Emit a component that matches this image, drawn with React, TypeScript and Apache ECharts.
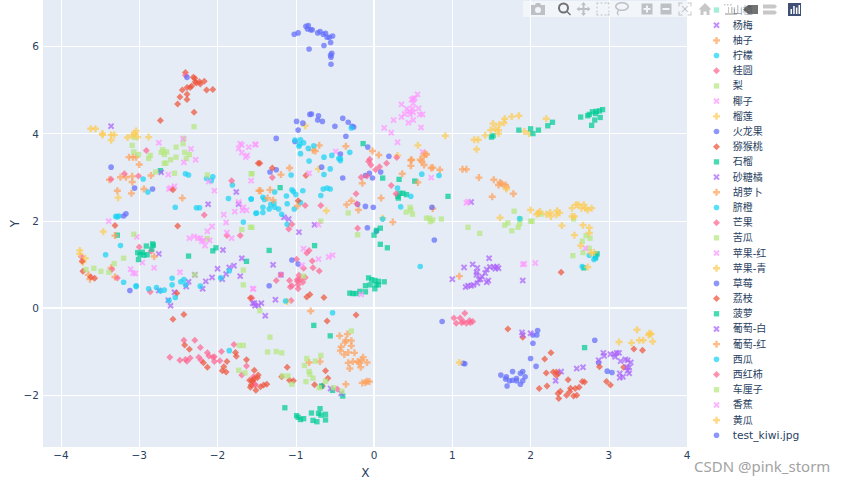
import React, { useEffect, useRef } from "react";
import * as echarts from "echarts";

const xTicks = [-4, -3, -2, -1, 0, 1, 2, 3, 4];
const yTicks = [-2, 0, 2, 4, 6];

const shanzha = [[-3.28,1.67],[-2.73,3.15],[-2.37,1.19],[-2.06,1.31],[-2.02,1.38],[-1.63,1.07],[-1.2,2.76],[-1.34,1.32],[-0.76,1.43],[-0.14,3.77],[0.11,2.98],[0.32,2.95],[0.52,2.91],[0.945,2.56],[0.08,1.46],[0.17,1.38],[1.5,3.92],[1.52,3.95],[2.83,1.21],[2.85,1.24],[2.83,1.15],[2.68,0.92],[-0.77,-0.4],[-0.56,-0.64],[2.69,-0.91],[-1.14,-2.29]];
const yangmei = [[-3.36,4.17],[-2.75,1.24],[-2.72,3.11],[-1.76,2.66],[-2.12,2.38],[-1.73,2.38],[-1.93,1.33],[-1.69,1.14],[-2.0,0.9],[-1.85,0.93],[-1.79,0.97],[-1.89,0.78],[-1.71,0.73],[-2.07,0.7],[-2.15,0.61],[-1.94,0.66],[-2.29,0.76],[-2.37,0.6],[-2.4,0.49],[-2.19,0.44],[-2.55,0.36],[-2.75,0.4],[-2.63,0.18],[-2.6,0.05],[-1.55,0.11],[-1.52,0.05],[-1.48,0.06],[-1.53,0.11],[-1.44,0.11],[-1.26,0.19]];
const youzi = [[-3.0,3.29],[-3.24,3.0],[-3.17,3.0],[-3.09,3.02],[-3.09,2.89],[-3.38,2.94],[-3.28,2.69],[-3.1,2.63],[-2.94,2.73],[-2.85,3.04],[-2.45,2.52],[-1.47,2.69],[-3.31,1.66],[-2.81,1.18],[-3.36,0.92],[-3.31,0.71],[-3.65,0.76],[-3.63,0.66],[-3.13,3.46],[-3.08,3.46],[-3.04,3.46]];
const ningmeng = [[-2.95,2.96],[-2.89,2.66],[-2.41,3.08],[-2.37,3.05],[-2.54,2.31],[-3.3,2.1],[-3.26,2.11],[-3.28,2.09],[-2.27,2.3],[-2.23,2.3],[-2.14,2.97],[-2.08,2.92],[-2.06,3.01],[-1.81,2.82],[-1.86,2.51],[-1.57,2.5],[-1.51,2.17],[-1.67,1.97],[-3.24,1.43],[-3.43,1.22],[-1.06,3.05],[-0.83,3.37],[-0.56,3.19],[-0.64,3.06],[-0.43,3.38]];
const guiyuan = [[-2.43,-0.74],[-2.29,-0.74],[-2.22,-0.91],[-2.61,-1.13],[-2.48,-1.2],[-2.41,-1.18],[-2.39,-1.22],[-2.35,-1.15],[-2.24,-1.13],[-2.21,-1.2],[-2.13,-1.03],[-2.11,-1.1],[-2.06,-1.13],[-2.04,-1.12],[-2.04,-1.23],[-1.97,-1.21],[-1.95,-1.0],[-1.79,-0.84],[-1.63,-1.33],[-1.69,-1.54],[-1.54,-1.58],[-1.52,-1.77],[-0.47,-1.86],[-1.52,-1.75]];
const li = [[-2.3,4.16],[-2.43,3.89],[-2.44,3.77],[-2.53,3.69],[-2.7,3.63],[-2.65,3.58],[-2.68,3.52],[-2.72,3.57],[-2.42,3.57],[-2.36,3.52],[-2.53,3.46],[-2.4,3.43],[-2.86,3.5],[-2.88,3.43],[-2.6,3.4],[-3.09,3.73],[-3.07,3.58],[-3.01,3.52],[-3.06,3.91],[-2.68,3.32],[-2.66,3.32],[-2.79,3.12],[-2.55,3.09],[-2.13,3.05],[-1.57,3.08],[-1.56,3.08]];
const yezi = [[0.555,4.9],[0.5,4.8],[0.52,4.81],[0.48,4.78],[0.5,4.69],[0.35,4.67],[0.42,4.57],[0.49,4.57],[0.57,4.58],[0.45,4.51],[0.5,4.49],[0.39,4.45],[0.46,4.44],[0.585,4.44],[0.62,4.44],[0.35,4.38],[0.5,4.31],[0.44,4.25],[0.25,4.31],[0.6,4.14],[0.13,4.13],[0.22,4.02],[0.3,3.8],[0.62,3.58],[-0.49,3.59],[-1.51,3.75]];
const liulian = [[1.85,4.41],[1.76,4.39],[1.67,4.34],[1.66,4.25],[1.6,4.21],[1.52,4.23],[1.55,4.11],[1.49,4.08],[1.59,4.08],[1.59,4.0],[1.42,3.96],[1.28,3.86],[1.33,3.86],[1.31,3.64],[1.92,4.05],[1.98,4.0],[2.2,4.34],[0.91,3.95],[0.56,3.73],[0.3,3.5],[-0.88,4.18]];
const huolongguo = [[-1.02,6.28],[-0.97,6.31],[-0.87,6.46],[-0.84,6.48],[-0.85,6.4],[-0.81,6.38],[-0.79,6.38],[-0.72,6.31],[-0.69,6.34],[-0.65,6.28],[-0.62,6.3],[-0.6,6.21],[-0.57,6.21],[-0.53,6.24],[-0.555,6.09],[-0.64,6.02],[-0.83,5.94],[-0.54,5.84],[-0.555,5.8],[-0.55,5.75],[-0.55,5.59],[-0.99,4.28],[-0.91,4.24],[-0.82,4.44],[-0.8,4.45],[-0.71,4.41],[-0.72,4.31],[-0.66,4.28],[-0.97,4.08],[-0.5,4.17],[-0.4,4.35],[-0.33,4.26],[-0.28,4.17],[-0.26,4.15],[-0.36,3.94],[-1.25,3.89],[-1.01,3.82],[-0.08,3.69],[-0.43,3.53],[0.19,3.48]];
const mihoutao = [[-2.41,5.4],[-2.31,5.29],[-2.285,5.19],[-2.23,5.19],[-2.17,5.2],[-2.33,5.09],[-2.39,5.06],[-2.45,5.0],[-2.14,5.0],[-2.06,5.01],[-2.39,4.9],[-2.48,4.84],[-2.39,4.78],[-2.51,4.68],[-2.3,4.49],[-2.73,4.3],[-2.27,5.16],[-2.35,5.06],[-2.22,5.14],[-2.29,5.27]];
const shiliu = [[1.85,4.08],[2.0,4.11],[2.03,4.0],[2.1,4.08],[2.22,4.18],[2.28,4.26],[2.64,4.38],[2.73,4.41],[2.75,4.44],[2.79,4.5],[2.84,4.51],[2.88,4.52],[2.92,4.55],[2.89,4.37],[2.82,4.31],[2.78,4.19],[2.83,4.46],[0.305,2.56],[0.33,2.63],[0.37,2.63],[0.415,2.6],[0.31,2.52]];
const shatangju = [[1.24,2.43],[1.47,1.14],[1.26,1.0],[1.32,0.92],[1.31,0.82],[1.31,0.76],[1.38,0.72],[1.36,0.66],[1.44,0.88],[1.42,0.8],[1.48,0.94],[1.53,0.94],[1.57,0.95],[1.59,0.91],[1.55,0.9],[1.32,0.57],[1.27,0.53],[1.24,0.51],[1.46,0.63],[1.44,0.59],[1.9,0.63],[1.34,0.65],[1.0,0.66],[1.15,0.93],[1.17,0.48],[1.2,0.51],[-1.15,2.08],[-1.09,2.04],[-0.76,1.91],[-0.96,1.74],[-1.29,0.99],[-1.19,0.76]];
const huluobo = [[1.34,2.99],[1.53,2.94],[1.61,2.88],[1.63,2.85],[1.59,2.82],[1.68,2.82],[1.69,2.77],[1.78,2.62],[1.51,2.55],[1.13,3.18],[1.18,3.18],[0.47,3.26],[0.61,3.36],[0.64,3.28],[0.73,3.21],[0.75,3.22],[0.84,3.17],[0.36,3.08],[0.48,3.4],[0.75,2.28],[0.56,2.88],[0.24,1.97],[0.09,2.52],[-0.15,2.86],[-0.2,2.25],[-0.29,2.46],[-0.35,2.37],[1.09,0.73],[-0.7,3.73],[-0.78,3.62],[-0.75,3.6],[-0.36,3.71],[-0.02,3.6],[0.06,3.51],[0.47,3.39],[0.65,3.54],[0.67,3.52],[0.635,3.48],[0.59,3.4]];
const qicheng = [[-1.57,2.5],[-1.5,2.18],[-1.42,2.54],[-1.4,2.49],[-1.42,2.31],[-1.42,2.19],[-1.27,2.66],[-1.34,2.27],[-1.32,2.37],[-1.28,2.4],[-1.27,2.31],[-1.22,2.27],[-1.18,2.15],[-1.12,2.57],[-1.11,2.39],[-1.05,2.71],[-1.03,2.67],[-1.0,2.6],[-0.91,2.69],[-1.02,2.27],[-0.94,2.42],[-1.11,1.92],[-0.68,2.58],[-0.65,2.73],[-0.6,2.75],[-0.56,2.73],[-1.01,3.85],[-0.94,3.86],[-0.95,3.75],[-0.9,3.79],[-0.96,3.71],[-0.84,3.66],[-0.77,3.72],[-0.94,3.54],[-0.64,3.46],[-0.54,3.5],[-0.29,4.13],[-0.31,3.57],[-0.45,3.43],[-0.43,3.43]];
const mangguo = [[-0.96,0.75],[-0.98,0.65],[-0.94,0.65],[-1.08,0.63],[-1.05,0.51],[-1.07,0.48],[-0.97,0.53],[-0.91,0.59],[-0.88,0.7],[-0.97,0.44],[-0.98,0.61],[-0.86,1.26],[-0.83,1.32],[-1.06,0.17],[-1.56,0.23],[-0.99,1.12],[-0.79,1.08],[-0.9,0.91],[-0.78,0.92],[-0.7,0.85],[-1.19,0.76],[-1.25,0.63],[-3.36,2.95],[-3.19,3.08],[-3.01,3.03],[-3.0,1.4],[-2.85,1.3],[-3.35,0.88],[-3.28,0.69],[-2.86,0.37],[-3.74,1.18],[-2.17,2.13],[-1.82,2.92],[-1.88,1.66],[-1.71,1.66],[-2.91,3.61],[-2.41,5.34]];
const kugua = [[1.79,2.22],[1.71,1.95],[1.67,1.9],[1.87,2.04],[1.86,1.93],[1.84,1.85],[1.76,1.77],[2.0,1.99],[2.02,1.99],[1.35,1.71],[1.2,1.85],[2.13,2.15],[2.55,2.04],[2.71,1.66],[2.76,1.6],[2.66,1.53],[2.75,1.37],[2.67,1.27],[2.54,1.2],[0.46,2.31],[0.41,2.2],[0.47,2.25],[0.49,2.15],[0.67,2.06],[0.71,2.06],[0.72,1.98],[0.75,2.02],[0.86,2.04],[-0.33,2.18],[-0.68,1.99],[-0.21,1.68],[-0.9,0.73],[-1.56,1.85]];
const pingguoHong = [[-3.39,1.99],[-3.03,1.63],[-2.63,3.06],[-2.43,3.34],[-2.62,2.73],[-2.6,2.75],[-2.55,2.79],[-2.11,2.9],[-2.04,2.69],[-1.73,2.43],[-1.78,2.21],[-1.67,2.31],[-1.63,2.24],[-1.68,2.24],[-1.92,2.14],[-1.89,1.96],[-2.96,1.04],[-2.81,0.92],[-3.11,0.89],[-3.08,0.8],[-3.05,0.79],[-2.48,0.82],[-1.57,2.92],[-1.55,0.44],[-2.75,3.79],[-2.44,3.88],[-2.34,3.65],[-2.28,3.4]];
const pingguoQing = [[-3.62,4.11],[-3.56,4.11],[-3.47,4.0],[-3.47,3.97],[-3.36,3.97],[-3.32,3.97],[-3.36,3.85],[-3.15,3.91],[-3.09,3.96],[-3.04,4.06],[-3.06,4.0],[-3.02,3.92],[-2.88,3.92],[-3.27,2.53],[-3.46,1.75],[-3.76,1.32],[-3.76,1.24],[-3.69,1.14],[-3.72,1.05],[-0.61,2.23],[-0.71,3.19],[0.11,2.06],[-1.11,0.15]];
const caomei = [[2.09,-0.52],[2.08,-0.62],[2.03,-0.62],[2.03,-0.81],[2.82,-0.74],[2.0,-1.16],[2.07,-1.34],[1.62,-1.54],[1.69,-1.58],[1.68,-1.63],[1.77,-1.46],[1.73,-1.67],[1.77,-1.66],[1.82,-1.62],[1.82,-1.67],[1.7,-1.79],[1.87,-1.5],[1.9,-1.46],[1.93,-1.58],[1.9,-1.67],[1.87,-1.75],[2.87,-1.26],[2.98,-1.45],[3.04,-1.48],[0.87,-0.31],[1.14,-1.27],[1.16,-1.28],[-3.06,2.75],[-2.83,2.73],[-3.36,3.23],[-3.17,2.16],[-3.2,2.11],[-3.12,0.4],[-1.33,3.12],[-1.25,3.17],[-0.67,3.23],[-0.4,2.98],[-0.11,3.04],[-0.06,3.09],[-0.02,2.98],[0.085,3.12],[-0.11,2.33],[-0.01,2.31],[-0.21,2.38],[0.74,2.31],[-0.085,1.84],[0.77,1.56],[-1.05,1.1],[-0.97,1.01],[-1.34,0.51],[0.03,1.76]];
const lizhi = [[1.71,-0.48],[1.9,-0.67],[2.26,-1.03],[2.18,-1.17],[2.2,-1.49],[2.29,-1.47],[2.33,-1.47],[2.36,-1.5],[2.33,-1.55],[2.48,-1.65],[2.11,-1.85],[2.21,-1.79],[2.66,-1.69],[2.69,-1.7],[2.62,-1.82],[2.57,-1.85],[2.51,-1.84],[2.5,-1.92],[2.46,-2.0],[2.55,-2.02],[2.59,-2.0],[2.38,-1.91],[2.35,-1.96],[2.36,-2.08],[2.97,-1.69],[3.02,-1.77],[2.88,-1.35],[3.19,-1.36],[3.32,-0.94],[3.43,-0.97],[2.39,0.82],[-3.31,1.89],[-2.51,1.88],[-2.57,2.71],[-3.73,1.07],[-3.72,0.84],[-3.62,0.71],[-3.57,0.68],[-2.52,0.34],[-1.58,0.23],[-1.48,3.32],[-1.46,3.32],[-1.3,3.21],[-0.87,3.04],[-0.97,2.46],[-0.64,0.24],[-0.86,0.25],[-0.82,0.31],[-2.57,-0.26],[-2.43,-0.15],[-2.42,-0.85],[-2.36,-0.95],[-2.18,-1.26],[-2.13,-1.36],[-1.77,-1.02],[-1.76,-1.11],[-1.63,-1.19],[-1.88,-1.23],[-1.92,-1.35],[-1.94,-1.44],[-1.89,-1.47],[-1.53,-1.43],[-1.48,-1.54],[-1.49,-1.6],[-1.59,-1.66],[-1.56,-1.67],[-1.57,-1.77],[-1.58,-1.82],[-1.51,-1.89],[-1.45,-1.81],[-1.41,-1.77],[-1.37,-1.75],[-1.55,-1.67],[-1.53,-1.62],[-1.11,-1.36],[-1.18,-1.58],[-1.08,-1.66],[-1.03,-1.67],[-0.23,-0.16],[-0.6,-0.3],[-0.62,-1.44],[-0.76,-1.76],[-0.66,-1.79],[-0.59,-1.61]];
const boluo = [[-0.07,0.69],[-0.03,0.65],[0.01,0.63],[0.055,0.61],[0.13,0.6],[-0.11,0.51],[-0.05,0.53],[0.025,0.53],[0.055,0.53],[0.01,0.44],[-0.11,0.37],[-0.18,0.38],[-0.23,0.33],[-0.27,0.33],[-0.31,0.34],[0,1.67],[0.03,1.78],[0.08,1.83],[-3.02,1.27],[-2.96,1.28],[-2.99,1.23],[-3.01,1.11],[-2.91,1.42],[-2.9,1.22],[-2.83,1.47],[-2.82,1.44],[-2.84,1.35],[-2.94,1.21],[-0.99,-2.47],[-0.97,-2.51],[-0.94,-2.56],[-0.9,-2.54],[-0.8,-2.41],[-0.78,-2.58],[-0.73,-2.61],[-0.71,-2.42],[-0.69,-2.31],[-0.68,-2.46],[-0.62,-2.44],[-0.62,-2.57],[-0.67,-1.79],[-0.53,-1.89],[-0.4,-2.02]];
const putaoBai = [[1.89,-0.56],[1.9,-0.62],[2.0,-0.58],[2.59,-1.39],[2.67,-1.36],[2.39,-1.46],[2.32,-1.67],[2.87,-1.2],[2.93,-1.03],[2.94,-1.1],[3.02,-1.06],[3.07,-1.06],[3.1,-1.03],[3.13,-1.03],[3.08,-1.12],[3.15,-1.22],[3.21,-1.18],[3.24,-1.2],[3.28,-1.25],[3.23,-1.36],[3.26,-1.36],[3.24,-1.44],[3.26,-1.5],[3.14,-1.5],[3.18,-1.58],[3.14,-1.6],[-1.39,-0.18],[-0.555,-1.85],[-0.42,-1.96]];
const putaoHong = [[-0.81,-0.07],[-0.44,-0.64],[-0.34,-0.6],[-0.36,-0.74],[-0.37,-0.79],[-0.29,-0.75],[-0.29,-0.87],[-0.42,-0.89],[-0.43,-0.98],[-0.38,-1.07],[-0.33,-1.02],[-0.25,-1.03],[-0.33,-1.26],[-0.27,-1.23],[-0.21,-1.23],[-0.16,-1.2],[-0.19,-1.26],[-0.09,-1.25],[-0.14,-1.13],[-0.17,-1.36],[-0.31,-1.39],[-0.36,-1.75],[-0.15,-1.72],[-0.09,-1.68],[-0.06,-1.69],[-0.11,-1.71],[-0.83,-1.25],[-0.69,-1.23],[-1.08,3.21],[-1.19,3.06],[-1.45,2.69],[-1.33,2.71],[-1.36,2.52],[-1.29,2.47],[-0.98,2.34]];
const xigua = [[-3.2,0.59],[-3.04,0.51],[-3.04,0.49],[-2.88,0.44],[-2.78,0.47],[-2.73,0.39],[-2.68,0.41],[-2.58,0.68],[-2.58,0.53],[-2.47,0.6],[-2.43,0.65],[-2.41,0.53],[-2.54,0.24],[-2.62,0.17],[-2.22,0.5],[-1.96,0.69],[-1.85,0.85],[-1.13,0.16],[0.3,2.75],[0.61,3.07],[0.83,3.04],[0.34,2.32],[0.47,2.56],[0.11,2.04],[0.59,0.95],[1.86,2.05],[2.75,1.21],[2.81,1.11],[2.66,0.95],[2.83,1.16],[-1.85,-0.98],[-0.53,-0.11]];
const xihongshi = [[1.02,-0.23],[1.05,-0.35],[1.1,-0.23],[1.14,-0.31],[1.18,-0.35],[1.16,-0.12],[1.22,-0.29],[1.12,-0.34],[1.26,-0.31],[1.23,-0.34],[-1.3,2.99],[-0.88,2.35],[-1.09,1.81],[-1.05,1.92],[-0.68,2.35],[-0.23,2.62],[-0.22,2.39],[-0.21,1.83],[-0.165,3.0],[-0.09,3.03],[-0.07,3.36],[-0.04,3.28],[0.02,3.17],[0.07,3.24],[0.16,3.32],[0.22,2.81],[0.28,2.62],[-0.055,3.41],[0.29,3.45]];
const chelizi = [[-1.46,-0.06],[-1.33,-0.67],[-1.36,-1.01],[-1.25,-1.0],[-1.18,-1.03],[-1.17,-1.56],[-1.1,-1.56],[-1.05,-1.75],[-0.86,-1.16],[-0.89,-1.32],[-0.75,-1.22],[-0.68,-1.09],[-0.83,-1.46],[-0.82,-1.52],[-0.78,-1.61],[-0.87,-1.69],[-0.62,-1.68],[-0.7,-1.83],[-0.29,-0.53],[-0.52,-1.83],[-0.41,-1.91],[-1.72,-0.86],[-1.67,-0.86],[-1.73,-1.43],[-1.65,-1.49],[-3.07,1.69],[-1.69,1.8],[-1.58,1.85],[-2.13,1.59],[-3.2,1.14],[-3.32,1.02],[-3.68,0.88],[-3.58,0.91],[-3.49,0.84],[-3.39,0.82],[-2.29,0.76],[-1.67,0.87],[-1.67,0.53]];
const xiangjiao = [[-2.13,1.76],[-2.07,1.87],[-2.36,1.6],[-2.3,1.64],[-2.22,1.6],[-2.18,1.55],[-2.25,1.6],[-2.2,1.53],[-2.1,1.55],[-2.16,1.43],[-1.88,1.73],[-1.82,1.6],[-1.71,3.77],[-1.69,3.74],[-1.6,3.69],[-1.52,3.75],[-1.73,3.66],[-1.69,3.56],[-1.62,3.5],[-1.64,3.46],[-0.83,3.09],[-0.71,1.91],[-0.9,1.36],[-0.71,1.12],[-0.58,1.17],[-0.53,1.21],[-0.92,0.98],[-1.54,0.44],[0.73,2.99],[-0.165,0.31],[1.2,2.44],[1.18,2.41],[2.7,1.37],[1.92,1.01],[1.9,1.0],[2.06,1.03]];
const huanggua = [[3.36,-0.5],[3.52,-0.58],[3.54,-0.6],[3.51,-0.62],[3.13,-0.78],[3.29,-0.8],[3.39,-0.74],[3.44,-0.74],[3.56,-0.77],[1.69,2.73],[2.0,2.25],[1.61,2.07],[2.1,2.18],[2.12,2.21],[2.08,2.15],[2.2,2.15],[2.25,2.19],[2.26,2.1],[2.34,2.23],[2.33,2.14],[2.37,2.18],[2.4,1.89],[2.53,2.29],[2.58,2.37],[2.61,2.37],[2.65,2.29],[2.68,2.37],[2.7,2.29],[2.73,2.25],[2.78,2.29],[2.53,2.1],[2.56,2.1],[2.67,1.9],[2.75,1.84],[2.75,1.72],[2.56,1.67],[2.64,1.43],[2.77,1.26],[2.81,1.27],[2.73,0.94],[1.09,-1.25]];
const testKiwi = [[-2.39,5.29]];

const seriesNames = ["山楂","杨梅","柚子","柠檬","桂圆","梨","椰子","榴莲","火龙果","猕猴桃","石榴","砂糖橘","胡萝卜","脐橙","芒果","苦瓜","苹果-红","苹果-青","草莓","荔枝","菠萝","葡萄-白","葡萄-红","西瓜","西红柿","车厘子","香蕉","黄瓜","test_kiwi.jpg"];
const seriesPoints = [shanzha,yangmei,youzi,ningmeng,guiyuan,li,yezi,liulian,huolongguo,mihoutao,shiliu,shatangju,huluobo,qicheng,mangguo,kugua,pingguoHong,pingguoQing,caomei,lizhi,boluo,putaoBai,putaoHong,xigua,xihongshi,chelizi,xiangjiao,huanggua,testKiwi];

// plotly's default colour and symbol cycles, starting at the square
const colorCycle = ["#00cc96","#ab63fa","#FFA15A","#19d3f3","#FF6692","#B6E880","#FF97FF","#FECB52","#636efa","#EF553B"];
const BOX = "M0 0M100 100";
const SQUARE = `path://${BOX}M12 12H88V88H12Z`;
const X = `path://${BOX}M24 4L50 30L76 4L96 24L70 50L96 76L76 96L50 70L24 96L4 76L30 50L4 24Z`;
const CROSS = `path://${BOX}M33 0H67V33H100V67H67V100H33V67H0V33H33Z`;
const CIRCLE = `path://${BOX}M50 10A40 40 0 1 1 50 90A40 40 0 1 1 50 10Z`;
const DIAMOND = `path://${BOX}M50 0L100 50L50 100L0 50Z`;
const symbolCycle = [SQUARE, X, CROSS, CIRCLE, DIAMOND];

const FONT = '"DejaVu Sans","Noto Sans CJK SC",sans-serif';
const INK = "#2a3f5f";
const ICON = "rgba(68,68,68,0.3)";
const ICON_ON = "rgba(68,68,68,0.75)";

const toolIcons: Record<string, string> = {
  tbCamera: "M0 2H4L5 0H9L10 2H14V12H0Z M7 4A3 3 0 1 0 7 10A3 3 0 1 0 7 4Z",
  tbZoom: "M5.5 0A5.5 5.5 0 1 1 5.5 11A5.5 5.5 0 1 1 5.5 0Z M5.5 2A3.5 3.5 0 1 0 5.5 9A3.5 3.5 0 1 0 5.5 2Z M9 8L13 12L12 13L8 9Z",
  tbPan: "M7 0L9.5 3H8V6H11V4.5L14 7L11 9.5V8H8V11H9.5L7 14L4.5 11H6V8H3V9.5L0 7L3 4.5V6H6V3H4.5Z",
  tbBox: "M0 0H2V1H1V2H0Z M4 0H6V1H4Z M8 0H10V1H8Z M11 0H13V2H12V1H11Z M12 4H13V6H12Z M12 8H13V10H12Z M12 11H13V13H11V12H12Z M8 12H10V13H8Z M4 12H6V13H4Z M0 11H1V12H2V13H0Z M0 8H1V10H0Z M0 4H1V6H0Z",
  tbLasso: "M7 0C11 0 14 2 14 4.5C14 7 11 9 7 9C6 9 5 9 4 8.5L3 11L4 13L3 13.5L1.5 11L2.8 8C1 7 0 6 0 4.5C0 2 3 0 7 0Z M7 1.5C4 1.5 1.5 3 1.5 4.5C1.5 6 4 7.5 7 7.5C10 7.5 12.5 6 12.5 4.5C12.5 3 10 1.5 7 1.5Z",
  tbPlus: "M0 0H11V11H0Z M4.5 2V4.5H2V6.5H4.5V9H6.5V6.5H9V4.5H6.5V2Z",
  tbMinus: "M0 0H11V11H0Z M2 4.5V6.5H9V4.5Z",
  tbAuto: "M0 0H4V1H1V4H0Z M9 0H13V4H12V1H9Z M0 9H1V12H4V13H0Z M12 9H13V13H9V12H12Z M3.5 3L6.5 5.7L9.5 3L10 3.5L7.2 6.5L10 9.5L9.5 10L6.5 7.3L3.5 10L3 9.5L5.8 6.5L3 3.5Z",
  tbHome: "M6.5 0L13 6.5H11V12H8V8.5H5V12H2V6.5H0Z",
  tbSpike: "M0 1H1.5V2.5H0Z M3 1H4.5V2.5H3Z M6 1H7.5V2.5H6Z M4 4H5V12H4Z M7 4H8.5V12H7Z M10 6H11V12H10Z M1 10H13V12H1Z",
  tbClosest: "M0 5.5L5 1H15V10H5Z",
  tbCompare: "M1 1H13L15 3L13 5H1Z M1 7H13L15 9L13 11H1Z",
  tbLogo: "M2 6H3.5V11H2Z M4.7 3H6.2V11H4.7Z M7.4 4.5H8.9V11H7.4Z M10 2H11.5V11H10Z",
};

const modebarItems = [
  { type: "tbCamera", x: 531, y: 3, fill: ICON },
  { type: "tbZoom", x: 558, y: 2.5, fill: ICON_ON },
  { type: "tbPan", x: 576.5, y: 2, fill: ICON },
  { type: "tbBox", x: 596.5, y: 2.5, fill: ICON },
  { type: "tbLasso", x: 615, y: 2, fill: ICON },
  { type: "tbPlus", x: 641.5, y: 3.5, fill: ICON },
  { type: "tbMinus", x: 660.5, y: 3.5, fill: ICON },
  { type: "tbAuto", x: 678.5, y: 2.5, fill: ICON },
  { type: "tbHome", x: 698.5, y: 3, fill: ICON },
  { type: "tbSpike", x: 724, y: 3, fill: ICON },
  { type: "tbClosest", x: 743, y: 4, fill: ICON_ON },
  { type: "tbCompare", x: 762, y: 3.5, fill: ICON },
];

let shapesRegistered = false;
function registerToolShapes() {
  if (shapesRegistered) return;
  shapesRegistered = true;
  Object.keys(toolIcons).forEach((k) => {
    echarts.graphic.registerShape(k, echarts.graphic.extendPath(toolIcons[k], {}));
  });
}

const minusLabel = (v: number) => String(v).replace("-", "\u2212");

export default function App() {
  const ref = useRef<HTMLDivElement>(null);
  useEffect(() => {
    document.body.style.margin = "0";
    registerToolShapes();
    const chart = echarts.init(ref.current!, undefined, { renderer: "svg" });
    chart.setOption({
      animation: false,
      backgroundColor: "#ffffff",
      textStyle: { fontFamily: FONT },
      grid: { left: 43, right: 159.5, top: 0, bottom: 36, outerBoundsMode: "none", containLabel: false, backgroundColor: "#e5ecf6", show: true, borderWidth: 0 },
      xAxis: {
        type: "value", min: -4.23, max: 4.005,
        name: "X", nameLocation: "middle", nameGap: 20,
        nameTextStyle: { color: INK, fontSize: 12, fontFamily: FONT },
        axisLine: { show: true, onZero: true, lineStyle: { color: "#ffffff", width: 2 } },
        axisTick: { show: false, customValues: xTicks },
        axisLabel: { color: INK, fontSize: 10.5, fontFamily: FONT, margin: 3, customValues: xTicks, formatter: minusLabel, showMinLabel: true, showMaxLabel: true },
        splitLine: { show: true, lineStyle: { color: "#ffffff", width: 1 } },
      },
      yAxis: {
        type: "value", min: -3.19, max: 7.065,
        axisLine: { show: true, onZero: true, lineStyle: { color: "#ffffff", width: 2 } },
        axisTick: { show: false, customValues: yTicks },
        axisLabel: { color: INK, fontSize: 10.5, fontFamily: FONT, margin: 4, customValues: yTicks, formatter: minusLabel },
        splitLine: { show: true, lineStyle: { color: "#ffffff", width: 1 } },
      },
      legend: {
        orient: "vertical", left: 713, top: 4, padding: 0,
        itemWidth: 22.4, itemHeight: 7, itemGap: 3.19,
        selectedMode: false,
        textStyle: { color: INK, fontSize: 10, lineHeight: 12, fontFamily: FONT },
        data: seriesNames.map((name, i) => ({
          name,
          icon: symbolCycle[i % 5],
          ...(name === "test_kiwi.jpg" ? { textStyle: { fontSize: 10.7, color: INK, fontFamily: FONT, lineHeight: 12 } } : {}),
        })),
      },
      series: seriesNames.map((name, i) => ({
        name,
        type: "scatter",
        data: seriesPoints[i],
        symbol: symbolCycle[i % 5],
        symbolSize: 7,
        itemStyle: { color: colorCycle[i % 10], opacity: 0.72 },
        silent: true,
      })),
      graphic: {
        elements: [
          { type: "text", x: 15, y: 223.5, rotation: Math.PI / 2, z: 20, silent: true, style: { text: "Y", fill: INK, font: `12px "DejaVu Sans"`, align: "center", verticalAlign: "middle" } },
          { type: "text", x: 694, y: 458, z: 20, silent: true, style: { text: "CSDN @pink_storm", fill: "#a3a3a3", font: `15px "Noto Sans"` } },
          { type: "rect", z: 20, silent: true, shape: { x: 523, y: 1, width: 282, height: 16 }, style: { fill: "rgba(255,255,255,0.5)" } },
          ...modebarItems.map((m) => ({ type: m.type, x: m.x, y: m.y, z: 21, silent: true, style: { fill: m.fill } })),
          { type: "rect", z: 21, silent: true, shape: { x: 788, y: 3, width: 13, height: 13 }, style: { fill: "#3f4f75" } },
          { type: "tbLogo", x: 788.5, y: 3, z: 22, silent: true, style: { fill: "#ffffff" } },
        ],
      },
    });
    return () => chart.dispose();
  }, []);
  return <div ref={ref} style={{ position: "absolute", left: 0, top: 0, width: 847, height: 483, background: "#fff" }} />;
}
